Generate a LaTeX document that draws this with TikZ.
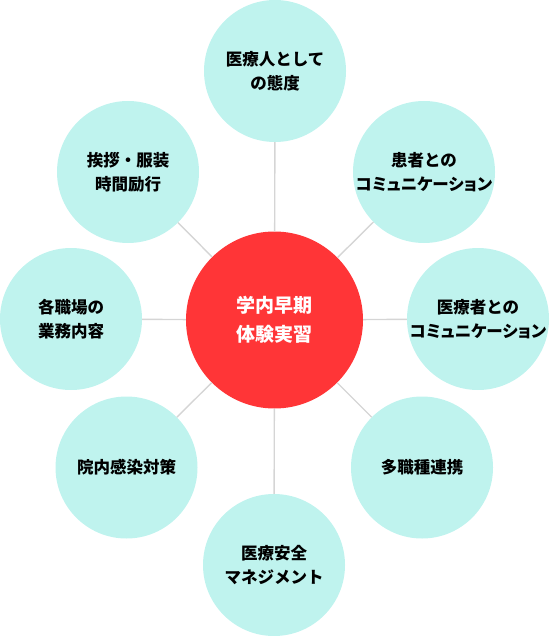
\documentclass[tikz,border=0pt]{standalone}
\usepackage{fontspec}
\newfontfamily\cjk{Noto Sans CJK JP}
\newfontfamily\cjkp{Noto Sans CJK JP}[RawFeature=+palt]
\definecolor{teal1}{HTML}{BFF3EE}
\definecolor{red1}{HTML}{FF3537}
\definecolor{line1}{HTML}{D5D5D5}
\newcommand{\narrowtxt}[1]{{\cjkp\bfseries #1}}
\begin{document}
\begin{tikzpicture}[x=1pt,y=-1pt,
  outer/.style={circle,fill=teal1,minimum size=142pt,inner sep=0pt,align=center,
    font=\cjk\bfseries\fontsize{16.5}{24}\selectfont,text=black},
  hub/.style={circle,fill=red1,minimum size=177pt,inner sep=0pt,align=center,
    font=\cjk\bfseries\fontsize{19}{29}\selectfont,text=white},
  conn/.style={draw=line1,line width=1.4pt}]
\useasboundingbox (0,0) rectangle (549,636);
\node[hub] (c) at (274.5,320) {学内早期\\体験実習};
\node[outer] (n) at (275,71) {医療人として\\の態度};
\node[outer] (ne) at (424,172) {患者との\\\narrowtxt{コミュニケーション}};
\node[outer] (e) at (478,319) {医療者との\\\narrowtxt{コミュニケーション}};
\node[outer] (se) at (422,467.5) {多職種連携};
\node[outer] (s) at (274,565) {医療安全\\マネジメント};
\node[outer] (sw) at (126.5,467.5) {院内感染対策};
\node[outer] (w) at (71,319) {各職場の\\業務内容};
\node[outer] (nw) at (128,172) {挨拶・服装\\時間励行};
\foreach \t in {n,ne,e,se,s,sw,w,nw} {\draw[conn] (c) -- (\t);}
\end{tikzpicture}
\end{document}
